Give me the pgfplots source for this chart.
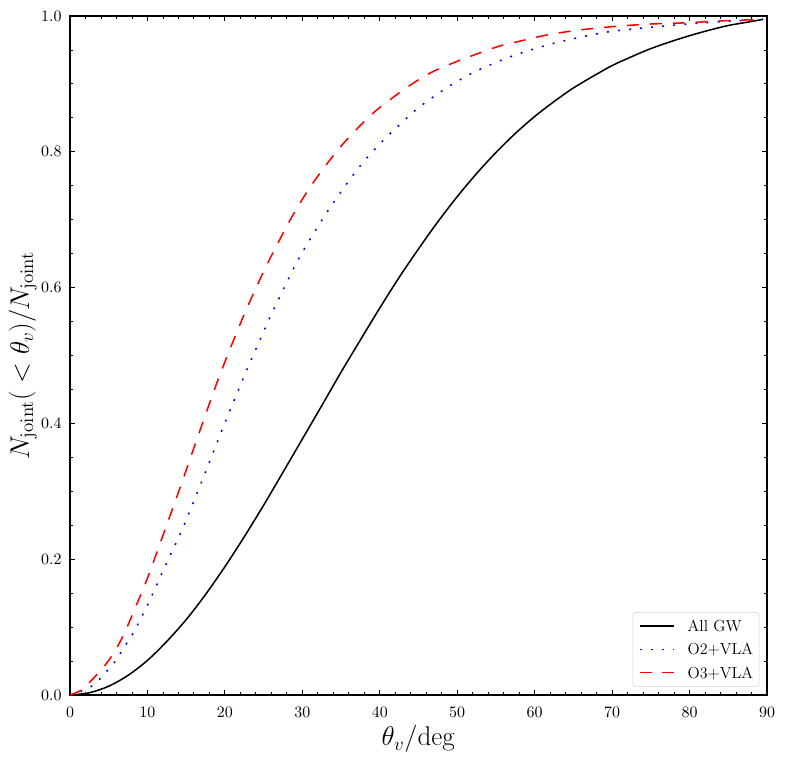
\documentclass[border=0pt]{standalone}
\usepackage{fix-cm}
\usepackage{pgfplots}
\pgfplotsset{compat=1.18}
\begin{document}
\begin{tikzpicture}
\begin{axis}[
  scale only axis, width=501.84pt, height=488.88pt,
  xmin=0, xmax=90, ymin=0, ymax=1,
  xtick={0,10,20,30,40,50,60,70,80,90},
  ytick={0,0.2,0.4,0.6,0.8,1},
  minor x tick num=4, minor y tick num=3,
  tick align=inside, tick pos=both,
  major tick length=3.5pt, minor tick length=2pt,
  tick style={black, line width=0.8pt},
  minor tick style={line width=0.6pt},
  axis line style={line width=0.8pt},
  y tick label style={/pgf/number format/fixed, /pgf/number format/fixed zerofill, /pgf/number format/precision=1, xshift=-2.5pt},
  x tick label style={anchor=base, yshift=-16.1pt},
  tick label style={font=\fontsize{11.5}{13}\selectfont},
  xlabel={$\theta_v/\mathrm{deg}$},
  ylabel={$N_{\mathrm{joint}}(\mathord{}<\theta_v)/N_{\mathrm{joint}}$},
  label style={font=\fontsize{19.5}{23}\selectfont, inner sep=0pt},
  xlabel style={at={(axis description cs:0.5,0)}, anchor=base, yshift=-36.7pt},
  ylabel style={at={(axis description cs:-0.0473,0.5)}, anchor=south},
  legend style={at={(0.989,0.0122)}, anchor=south east,
    font=\fontsize{11.5}{13}\selectfont, draw=black!18, rounded corners=2.5pt,
    fill=white, inner xsep=4.3pt, inner ysep=4.6pt, row sep=6.2pt, column sep=9.4pt,
    nodes={inner sep=0pt, text height=9.2pt, text depth=1.4pt}, cells={anchor=west}},
  legend image code/.code={\draw[#1] (0pt,0pt) -- (24.7pt,0pt);},
]
\coordinate (bl) at (rel axis cs:0,0);
\coordinate (tr) at (rel axis cs:1,1);
\addplot[black, line width=1.1pt, smooth] coordinates {
(0,0) (2.5,0.0033) (5,0.013) (7.5,0.029) (10,0.051) (12.5,0.079) (15,0.111) (17.5,0.148) (20,0.189) (22.5,0.233) (25,0.2795) (27.5,0.328) (30,0.377) (32.5,0.426) (35,0.4755) (37.5,0.523) (40,0.570) (42.5,0.615) (45,0.657) (47.5,0.697) (50,0.734) (52.5,0.768) (55,0.799) (57.5,0.827) (60,0.852) (62.5,0.874) (65,0.894) (67.5,0.911) (70,0.927) (72.5,0.940) (75,0.952) (77.5,0.962) (80,0.971) (82.5,0.979) (85,0.986) (87.5,0.991) (89.5,0.995)
};
\addlegendentry{All GW}
\addplot[blue, line width=1.1pt, dash pattern=on 1.4pt off 6.6pt, smooth] coordinates {
(0,0) (1.5,0.006) (2.8,0.013) (3.87,0.024) (4.82,0.036) (5.8,0.049) (6.54,0.062) (7.3,0.076) (8.1,0.09) (8.8,0.105) (10.03,0.133) (12.3,0.19) (14.6,0.247) (17.2,0.32) (19.8,0.395) (22.5,0.47) (25.18,0.54) (26.47,0.572) (29.27,0.637) (31.3,0.677) (33.36,0.714) (35.6,0.751) (37.88,0.785) (40.37,0.816) (42.48,0.839) (44.64,0.8616) (46.92,0.881) (49.29,0.899) (51.87,0.9156) (54.45,0.929) (57.1,0.941) (61.55,0.957) (65.6,0.968) (69.7,0.977) (74.6,0.983) (79.6,0.988) (84.5,0.992) (89.5,0.995)
};
\addlegendentry{O2+VLA}
\addplot[red, line width=1.1pt, dash pattern=on 8.6pt off 7.9pt, smooth] coordinates {
(0,0) (1.5,0.0074) (2.6,0.0196) (3.7,0.033) (4.74,0.047) (5.6,0.061) (6.4,0.077) (7.1,0.093) (8.3,0.125) (10,0.172) (11.62,0.223) (14.2,0.305) (16.79,0.39) (19.3,0.47) (21.74,0.54) (23.24,0.58) (25.18,0.628) (27,0.669) (28.84,0.708) (31,0.748) (33.36,0.785) (35.51,0.815) (38.74,0.853) (41.23,0.876) (43.9,0.898) (46.58,0.9165) (49.5,0.931) (52.5,0.944) (55.53,0.956) (58.1,0.963) (61.55,0.972) (65.5,0.979) (69.7,0.984) (74.6,0.988) (79.6,0.990) (84.5,0.993) (89.5,0.995)
};
\addlegendentry{O3+VLA}
\end{axis}
\pgfresetboundingbox
\path ([shift={(-50.4pt,-48.96pt)}]bl) rectangle ([shift={(13.68pt,11.52pt)}]tr);
\end{tikzpicture}
\end{document}
